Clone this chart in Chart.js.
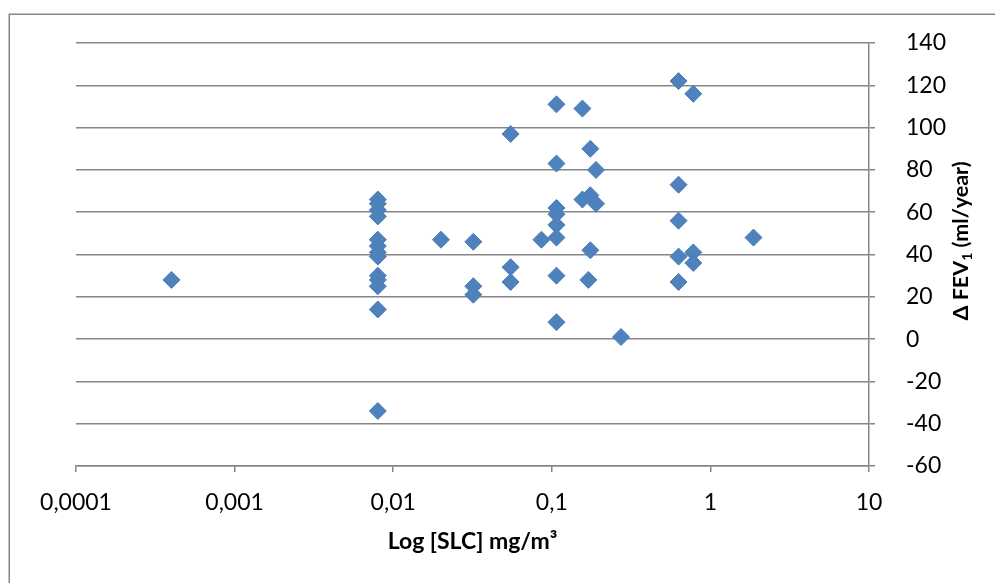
<!DOCTYPE html>
<html>
<head>
<meta charset="utf-8">
<title>FEV1 vs SLC</title>
<script src="https://cdn.jsdelivr.net/npm/chart.js"></script>
<style>
  body { margin: 0; background: #fff; }
  #wrap { position: relative; width: 995px; height: 583px; }
</style>
</head>
<body>
<div id="wrap"><canvas id="scatterChart" width="995" height="583"></canvas></div>
<script>
// values
const slcValues = [
  0.0004,
  0.008, 0.008, 0.008, 0.008, 0.008, 0.008, 0.008, 0.008, 0.008, 0.008, 0.008, 0.008, 0.008,
  0.02,
  0.032, 0.032, 0.032,
  0.055, 0.055, 0.055,
  0.086,
  0.107, 0.107, 0.107, 0.107, 0.107, 0.107, 0.107, 0.107,
  0.156, 0.156,
  0.175, 0.175, 0.175, 0.17,
  0.19, 0.19,
  0.273,
  0.63, 0.63, 0.63, 0.63, 0.63,
  0.78, 0.78, 0.78,
  1.87
];
const fevValues = [
  28,
  66, 64, 61, 58, 47, 44, 41, 39, 30, 28, 25, 14, -34,
  47,
  46, 25, 21,
  97, 34, 27,
  47,
  111, 83, 62, 59, 54, 48, 30, 8,
  109, 66,
  90, 68, 42, 28,
  80, 64,
  1,
  122, 73, 56, 39, 27,
  116, 41, 36,
  48
];
const xTicks = [0.0001, 0.001, 0.01, 0.1, 1, 10];
const xTickLabels = ['0,0001', '0,001', '0,01', '0,1', '1', '10'];
const yTicks = [-60, -40, -20, 0, 20, 40, 60, 80, 100, 120, 140];

const xTitle = 'Log [SLC] mg/m\u00B3';
const yTitleParts = ['\u0394 FEV', '1', ' (ml/year)'];

const axisGray = '#868686';
const fontFam = 'Lato, "Open Sans", sans-serif';

// frame + axis titles drawn on the canvas
const decorPlugin = {
  id: 'decor',
  beforeDraw(chart) {
    const ctx = chart.ctx;
    ctx.save();
    ctx.fillStyle = '#fff';
    ctx.fillRect(0, 0, chart.width, chart.height);
    ctx.strokeStyle = axisGray;
    ctx.lineWidth = 1.5;
    ctx.strokeRect(9.25, 14.25, 2000, 2000);
    ctx.restore();
  },
  afterDraw(chart) {
    const ctx = chart.ctx;
    const area = chart.chartArea;
    ctx.save();
    ctx.fillStyle = '#000';
    ctx.textBaseline = 'middle';
    ctx.textAlign = 'center';
    ctx.font = 'bold 23px ' + fontFam;
    ctx.fillText(xTitle, (area.left + area.right) / 2, 542);

    // rotated y title with subscript 1
    const bigFont = 'bold 21.5px ' + fontFam;
    const subFont = 'bold 14px ' + fontFam;
    ctx.font = bigFont;
    const w1 = ctx.measureText(yTitleParts[0]).width;
    const w3 = ctx.measureText(yTitleParts[2]).width;
    ctx.font = subFont;
    const w2 = ctx.measureText(yTitleParts[1]).width;
    const total = w1 + w2 + w3;
    ctx.translate(961, 241);
    ctx.rotate(-Math.PI / 2);
    ctx.textAlign = 'left';
    let x0 = -total / 2;
    ctx.font = bigFont;
    ctx.fillText(yTitleParts[0], x0, 0);
    ctx.font = subFont;
    ctx.fillText(yTitleParts[1], x0 + w1, 6);
    ctx.font = bigFont;
    ctx.fillText(yTitleParts[2], x0 + w1 + w2, 0);
    ctx.restore();
  }
};

window.addEventListener('DOMContentLoaded', function () {
  const ctx = document.getElementById('scatterChart').getContext('2d');
  const points = slcValues.map((x, i) => ({ x: x, y: fevValues[i] }));

  new Chart(ctx, {
    type: 'scatter',
    data: {
      datasets: [{
        data: points,
        pointStyle: 'rectRot',
        pointRadius: 8.5,
        pointHoverRadius: 8.5,
        backgroundColor: '#4F81BD',
        borderColor: '#4A7EBB',
        borderWidth: 1
      }]
    },
    options: {
      responsive: false,
      animation: false,
      layout: { padding: { left: 76, top: 43, right: 0, bottom: 0 } },
      plugins: {
        legend: { display: false },
        tooltip: { enabled: false }
      },
      scales: {
        x: {
          type: 'logarithmic',
          position: 'bottom',
          min: xTicks[0],
          max: xTicks[xTicks.length - 1],
          afterBuildTicks: (scale) => { scale.ticks = xTicks.map(v => ({ value: v })); },
          afterFit: (scale) => { scale.height = 117; },
          grid: { drawOnChartArea: false, drawTicks: true, tickLength: 6, color: axisGray, lineWidth: 1.5 },
          border: { color: axisGray, width: 1.5 },
          ticks: {
            autoSkip: false,
            maxRotation: 0,
            padding: 19,
            color: '#000',
            font: { family: fontFam, size: 23, lineHeight: 1 },
            callback: (value, index) => xTickLabels[index]
          }
        },
        y: {
          type: 'linear',
          position: 'right',
          min: yTicks[0],
          max: yTicks[yTicks.length - 1],
          afterBuildTicks: (scale) => { scale.ticks = yTicks.map(v => ({ value: v })); },
          afterFit: (scale) => { scale.width = 126; },
          grid: { color: axisGray, lineWidth: 1.5, tickLength: 6 },
          border: { color: axisGray, width: 1.5 },
          ticks: {
            padding: 31,
            color: '#000',
            font: { family: fontFam, size: 23, lineHeight: 1 }
          }
        }
      }
    },
    plugins: [decorPlugin]
  });
});
</script>
</body>
</html>
